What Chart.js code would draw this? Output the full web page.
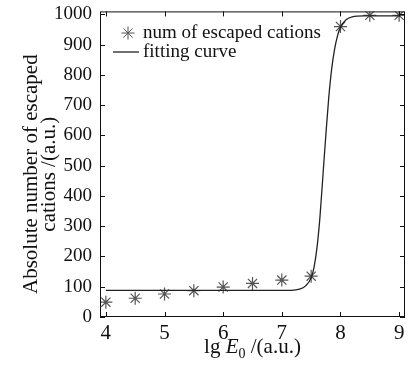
<!DOCTYPE html>
<html>
<head>
<meta charset="utf-8">
<script src="https://cdn.jsdelivr.net/npm/chart.js@4"></script>
<style>
  html, body { margin: 0; padding: 0; background: #fff; }
  #wrap { width: 414px; height: 368px; }
</style>
</head>
<body>
<div id="wrap"><canvas id="chart" width="414" height="368"></canvas></div>
<script>
// data
const lgE0 = [4, 4.5, 5, 5.5, 6, 6.5, 7, 7.5, 8, 8.5, 9];
const escapedCations = [49, 62, 76, 87, 99, 111, 122, 135, 960, 997, 997];

const fitX = [4, 7.0, 7.2, 7.3, 7.4, 7.5, 7.55, 7.6, 7.65, 7.7, 7.75, 7.8, 7.85, 7.9, 7.95, 8.0, 8.1, 8.2, 8.4, 9.0];
const fitY = [88, 88, 89, 92, 102, 130, 165, 230, 330, 465, 600, 725, 820, 885, 930, 958, 983, 992, 995, 995];

const xTicks = [4, 5, 6, 7, 8, 9];
const yTicks = [0, 100, 200, 300, 400, 500, 600, 700, 800, 900, 1000];
const yTitle = ['Absolute number of escaped', 'cations /(a.u.)'];

const serif = "'Liberation Serif', 'DejaVu Serif', serif";

// box, inward ticks, legend and axis titles
const framePlugin = {
    id: 'frame',
    afterDraw(chart) {
        const ctx = chart.ctx;
        const a = chart.chartArea;
        const xs = chart.scales.x;
        const ys = chart.scales.y;
        const len = 5;
        ctx.save();
        ctx.strokeStyle = '#111';
        ctx.lineWidth = 1;
        ctx.strokeRect(a.left + 0.5, a.top + 0.5, a.right - a.left - 1, a.bottom - a.top - 1);
        ctx.beginPath();
        xTicks.forEach(v => {
            const px = Math.round(xs.getPixelForValue(v)) + 0.5;
            ctx.moveTo(px, a.bottom); ctx.lineTo(px, a.bottom - len);
            ctx.moveTo(px, a.top); ctx.lineTo(px, a.top + len);
        });
        yTicks.forEach(v => {
            const py = Math.round(ys.getPixelForValue(v)) + 0.5;
            ctx.moveTo(a.left, py); ctx.lineTo(a.left + len, py);
            ctx.moveTo(a.right, py); ctx.lineTo(a.right - len, py);
        });
        ctx.stroke();

        // legend
        ctx.fillStyle = '#111';
        ctx.font = '19px ' + serif;
        ctx.textBaseline = 'middle';
        ctx.textAlign = 'left';
        ctx.strokeStyle = '#555';
        Chart.helpers.drawPoint(ctx, {pointStyle: 'star', radius: 6.5, borderWidth: 1.2}, 128, 33);
        ctx.fillText('num of escaped cations', 143, 33);
        ctx.strokeStyle = '#222';
        ctx.lineWidth = 1.3;
        ctx.beginPath();
        ctx.moveTo(113, 52); ctx.lineTo(139, 52);
        ctx.stroke();
        ctx.fillText('fitting curve', 143, 52);

        // x axis title: lg E0 /(a.u.)
        const parts = [
            {t: 'lg ', f: '21px ' + serif, dy: 0},
            {t: 'E', f: 'italic 21px ' + serif, dy: 0},
            {t: '0', f: '14px ' + serif, dy: 5},
            {t: ' /(a.u.)', f: '21px ' + serif, dy: 0}
        ];
        let total = 0;
        parts.forEach(p => { ctx.font = p.f; p.w = ctx.measureText(p.t).width; total += p.w; });
        let x = (a.left + a.right) / 2 - total / 2;
        ctx.textBaseline = 'alphabetic';
        parts.forEach(p => {
            ctx.font = p.f;
            ctx.fillText(p.t, x, 353 + p.dy);
            x += p.w;
        });

        // y axis title, two lines
        ctx.font = '21px ' + serif;
        ctx.textAlign = 'center';
        ctx.translate(0, (a.top + a.bottom) / 2 + 10);
        ctx.rotate(-Math.PI / 2);
        ctx.fillText(yTitle[0], 0, 37);
        ctx.fillText(yTitle[1], 0, 55);
        ctx.restore();
    }
};

new Chart(document.getElementById('chart'), {
    data: {
        datasets: [
            {
                type: 'line',
                label: 'fitting curve',
                data: fitX.map((x, i) => ({x: x, y: fitY[i]})),
                borderColor: '#222',
                borderWidth: 1.3,
                pointRadius: 0,
                cubicInterpolationMode: 'monotone',
                fill: false
            },
            {
                type: 'scatter',
                label: 'num of escaped cations',
                data: lgE0.map((x, i) => ({x: x, y: escapedCations[i]})),
                pointStyle: 'star',
                pointRadius: 6.5,
                borderColor: '#555',
                borderWidth: 1.2,
                backgroundColor: '#555'
            }
        ]
    },
    options: {
        responsive: false,
        animation: false,
        layout: {
            padding: {top: 10, right: 9, left: 0, bottom: 0}
        },
        plugins: {
            legend: {display: false},
            tooltip: {enabled: false}
        },
        scales: {
            x: {
                type: 'linear',
                min: 3.9,
                max: 9.1,
                afterBuildTicks: s => { s.ticks = xTicks.map(v => ({value: v})); },
                afterFit: s => { s.height = 51; },
                grid: {display: false},
                border: {display: false},
                ticks: {
                    color: '#111',
                    font: {family: serif, size: 21},
                    padding: -4,
                    maxRotation: 0
                }
            },
            y: {
                type: 'linear',
                min: 0,
                max: 1010,
                afterBuildTicks: s => { s.ticks = yTicks.map(v => ({value: v})); },
                afterFit: s => { s.width = 100; },
                grid: {display: false},
                border: {display: false},
                ticks: {
                    color: '#111',
                    font: {family: serif, size: 19},
                    padding: 0,
                    callback: v => String(v)
                }
            }
        }
    },
    plugins: [framePlugin]
});
</script>
</body>
</html>
